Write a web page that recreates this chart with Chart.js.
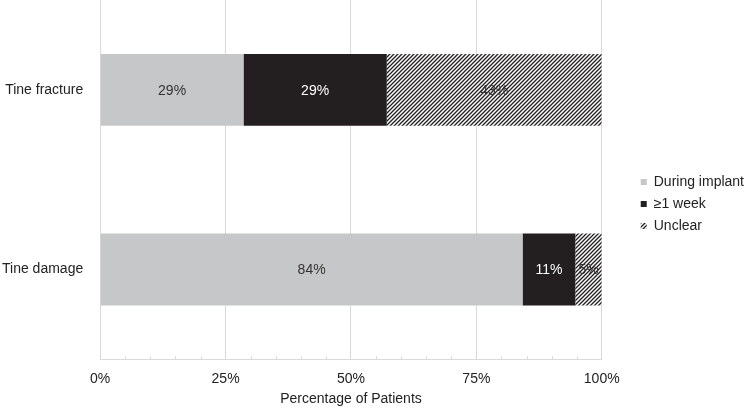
<!DOCTYPE html>
<html>
<head>
<meta charset="utf-8">
<script src="https://cdn.jsdelivr.net/npm/chart.js@4/dist/chart.umd.min.js"></script>
<style>
  html, body { margin: 0; padding: 0; background: #fff; }
  #wrap { width: 748px; height: 408px; }
</style>
</head>
<body>
<div id="wrap"><canvas id="chart"></canvas></div>
<script>
const categories = ['Tine fracture', 'Tine damage'];
const seriesNames = ['During implant', '\u22651 week', 'Unclear'];
const duringImplant = [28.57, 84.21];
const oneWeek = [28.57, 10.53];
const unclear = [42.86, 5.26];
const tickValues = [0, 25, 50, 75, 100];

const FONT = '"Liberation Sans", Arial, sans-serif';

function hatch() {
    const c = document.createElement('canvas');
    c.width = 4; c.height = 4;
    const g = c.getContext('2d');
    g.fillStyle = '#fff';
    g.fillRect(0, 0, 4, 4);
    g.strokeStyle = '#231f20';
    g.lineWidth = 1.3;
    g.beginPath();
    g.moveTo(-1, 5); g.lineTo(5, -1);
    g.moveTo(-1, 1); g.lineTo(1, -1);
    g.moveTo(3, 5); g.lineTo(5, 3);
    g.stroke();
    return g.createPattern(c, 'repeat');
}

const labelColors = ['#333333', '#ffffff', '#333333'];

// value labels in the middle of each segment
const segmentLabels = {
    id: 'segmentLabels',
    afterDatasetsDraw(chart) {
        const ctx = chart.ctx;
        ctx.save();
        ctx.font = '14px ' + FONT;
        ctx.textAlign = 'center';
        ctx.textBaseline = 'middle';
        chart.data.datasets.forEach((ds, i) => {
            chart.getDatasetMeta(i).data.forEach((bar, j) => {
                const p = bar.getCenterPoint();
                ctx.fillStyle = labelColors[i];
                ctx.fillText(Math.round(ds.data[j]) + '%', p.x, p.y + 1);
            });
        });
        ctx.restore();
    }
};

// small minor ticks every 5% pointing up from the x axis
const minorTicks = {
    id: 'minorTicks',
    afterDraw(chart) {
        const x = chart.scales.x;
        const ctx = chart.ctx;
        ctx.save();
        ctx.strokeStyle = '#d9d9d9';
        ctx.lineWidth = 1;
        ctx.beginPath();
        for (let v = 5; v < 100; v += 5) {
            if (v % 25 === 0) continue;
            const px = Math.round(x.getPixelForValue(v)) + 0.5;
            ctx.moveTo(px, chart.chartArea.bottom);
            ctx.lineTo(px, chart.chartArea.bottom - 3);
        }
        ctx.stroke();
        ctx.restore();
    }
};

// leave a wider gap between plot and legend, keep the legend near the right edge
const LEGEND_EXTRA = 25;
const LEGEND_SHIFT = 31;
const legendGap = {
    id: 'legendGap',
    beforeInit(chart) {
        const lg = chart.legend;
        const fit = lg.fit.bind(lg);
        lg.fit = function () { fit(); this.width += LEGEND_EXTRA; };
    },
    beforeDraw(chart) {
        chart.legend.left += LEGEND_SHIFT;
        chart.legend.right += LEGEND_SHIFT;
    }
};

new Chart(document.getElementById('chart'), {
    type: 'bar',
    data: {
        labels: categories,
        datasets: [
            { label: seriesNames[0], data: duringImplant, backgroundColor: '#c6c7c8' },
            { label: seriesNames[1], data: oneWeek, backgroundColor: '#231f20' },
            { label: seriesNames[2], data: unclear, backgroundColor: hatch() }
        ]
    },
    options: {
        indexAxis: 'y',
        responsive: true,
        maintainAspectRatio: false,
        animation: false,
        layout: { padding: { top: 0, right: 0, bottom: 0, left: 2 } },
        datasets: { bar: { categoryPercentage: 0.4, barPercentage: 1.0 } },
        plugins: {
            tooltip: { enabled: false },
            legend: {
                position: 'right',
                labels: {
                    boxWidth: 6,
                    boxHeight: 6,
                    padding: 8,
                    color: '#222',
                    font: { family: FONT, size: 14 }
                }
            }
        },
        scales: {
            x: {
                stacked: true,
                min: 0,
                max: 100,
                afterBuildTicks: (s) => { s.ticks = tickValues.map(v => ({ value: v })); },
                afterFit: (s) => { s.height -= 7; },
                ticks: {
                    color: '#222',
                    padding: 11,
                    font: { family: FONT, size: 14 },
                    callback: (v) => v + '%'
                },
                grid: { color: '#d9d9d9', drawTicks: false },
                border: { color: '#d9d9d9' },
                title: {
                    display: true,
                    text: 'Percentage of Patients',
                    color: '#222',
                    padding: { top: 0, bottom: 0 },
                    font: { family: FONT, size: 14 }
                }
            },
            y: {
                stacked: true,
                afterFit: (s) => { s.paddingTop = 0; s.paddingBottom = 0; s.width -= 17; },
                grid: { display: false, drawTicks: false },
                border: { color: '#d9d9d9' },
                ticks: {
                    color: '#222',
                    padding: 17,
                    font: { family: FONT, size: 14 }
                }
            }
        }
    },
    plugins: [segmentLabels, minorTicks, legendGap]
});
</script>
</body>
</html>
